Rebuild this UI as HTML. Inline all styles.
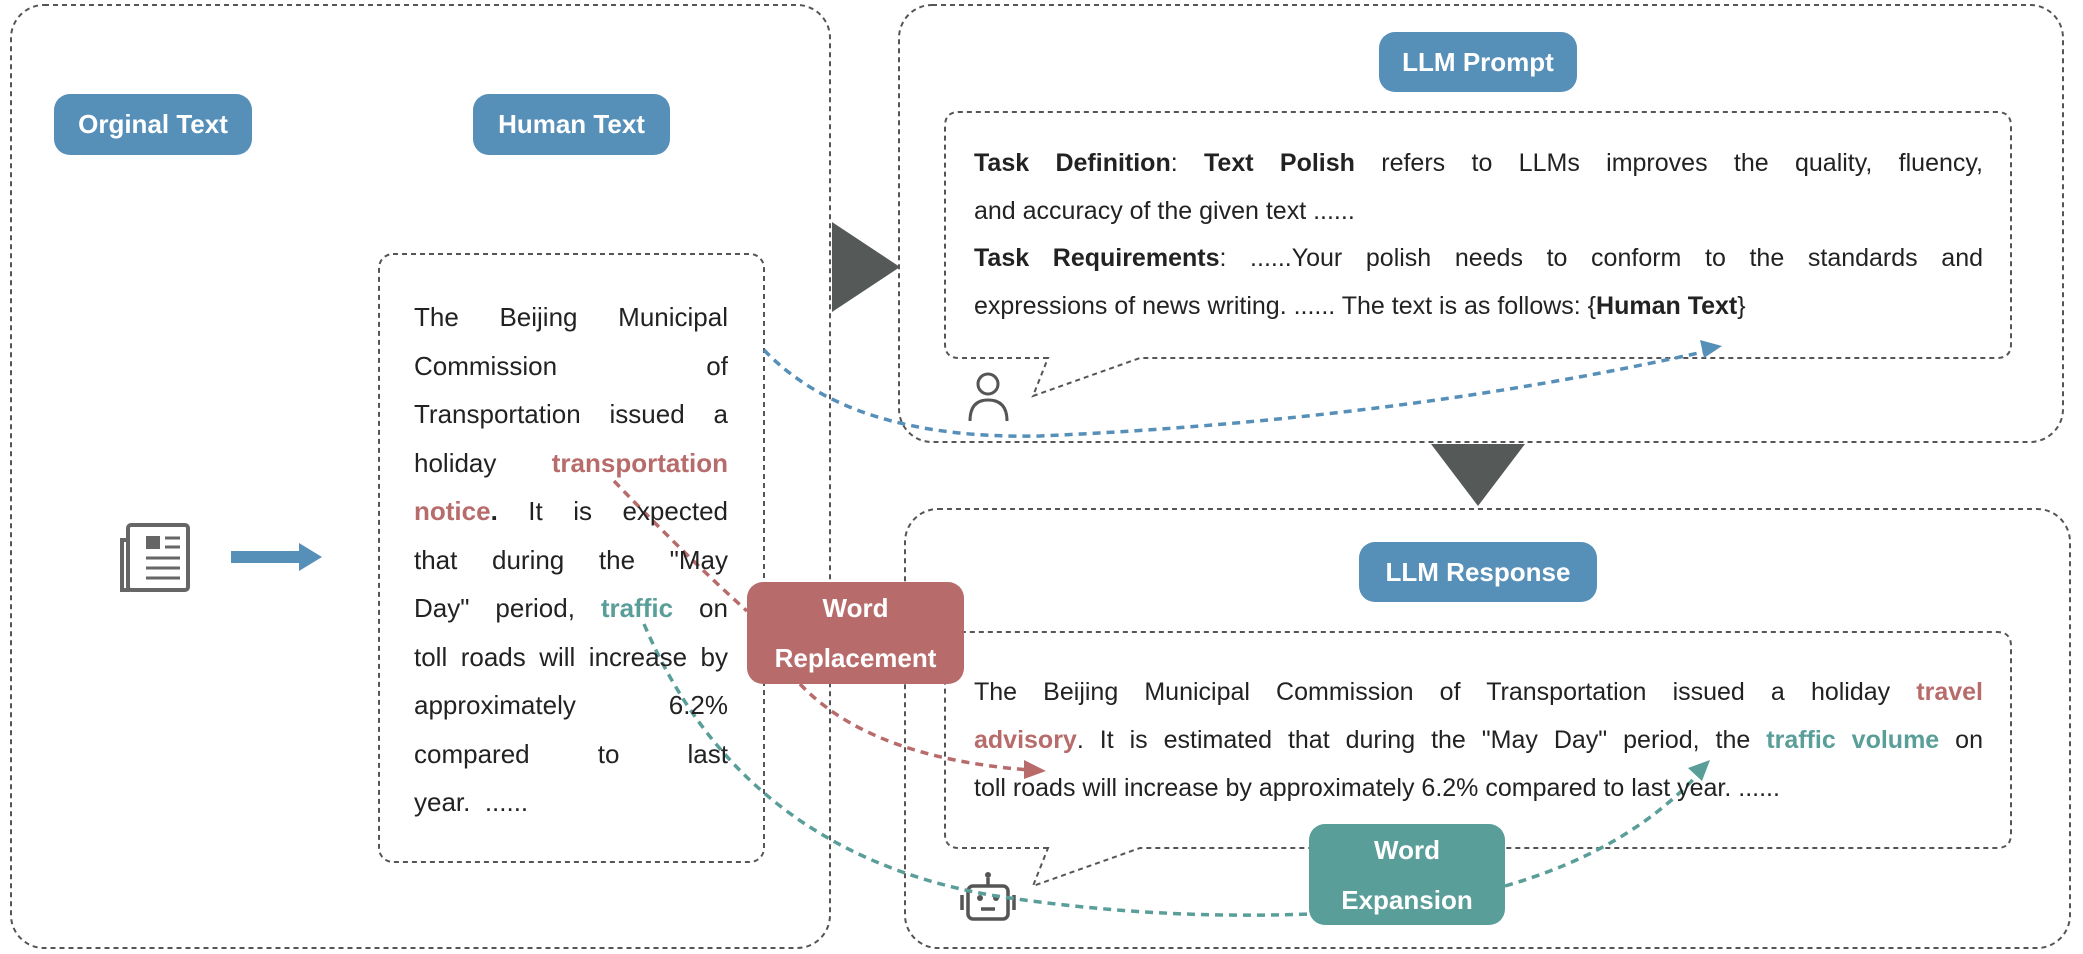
<!DOCTYPE html>
<html><head><meta charset="utf-8"><style>
html,body{margin:0;padding:0;background:#fff;}
body{width:2083px;height:954px;position:relative;overflow:hidden;font-family:"Liberation Sans","DejaVu Sans",sans-serif;color:#222;}
.pill{position:absolute;color:#fff;font-weight:bold;display:flex;align-items:center;justify-content:center;text-align:center;border-radius:16px;font-size:26px;}
.blue{background:#568fb8;}
.red{background:#b86b6b;line-height:50px;}
.teal{background:#5a9e9a;line-height:50px;}
.txt{position:absolute;}
.ln{text-align:justify;text-align-last:justify;white-space:nowrap;}
.ln.l{text-align-last:left;}
.ht{left:414px;top:293px;width:314px;font-size:26px;line-height:48.5px;}
.pt{left:974px;top:140px;width:1009px;font-size:25px;line-height:47.5px;}
.rt{left:974px;top:668px;width:1009px;font-size:25px;line-height:48px;}
.rd{color:#b86b6b;font-weight:bold;}
.tl{color:#5a9e9a;font-weight:bold;}
</style></head><body>
<svg width="2083" height="954" style="position:absolute;left:0;top:0" xmlns="http://www.w3.org/2000/svg">
<defs>
<marker id="ab" markerWidth="10" markerHeight="10" refX="6" refY="4" orient="auto" markerUnits="userSpaceOnUse" viewBox="0 0 8 8"><path d="M0,0 L8,4 L0,8z" fill="#568fb8"/></marker>
</defs>
<g fill="none" stroke="#555" stroke-width="2" stroke-dasharray="5,4">
<rect x="11" y="5" width="819" height="943" rx="33"/>
<rect x="379" y="254" width="385" height="608" rx="14"/>
<rect x="899" y="5" width="1164" height="437" rx="33"/>
<rect x="905" y="509" width="1165" height="439" rx="33"/>
<path d="M1048,358 L959,358 Q945,358 945,344 L945,126 Q945,112 959,112 L1997,112 Q2011,112 2011,126 L2011,344 Q2011,358 1997,358 L1140,358 L1033,396 Z"/>
<path d="M1048,848 L959,848 Q945,848 945,834 L945,646 Q945,632 959,632 L1997,632 Q2011,632 2011,646 L2011,834 Q2011,848 1997,848 L1140,848 L1033,886 Z"/>
</g>
<path d="M832,222 L900,267 L832,312 Z" fill="#555a58"/>
<path d="M1431,444 L1525,444 L1478,506 Z" fill="#555a58"/>
<!-- newspaper -->
<g fill="none" stroke="#666" stroke-width="4">
<rect x="128" y="525" width="60" height="65" rx="3"/>
<path d="M128,540 L122,540 L122,590 L130,590"/>
</g>
<rect x="146" y="536" width="14" height="13" fill="#666"/>
<g stroke="#666" stroke-width="3"><line x1="165" y1="538" x2="180" y2="538"/><line x1="165" y1="547" x2="180" y2="547"/><line x1="146" y1="558" x2="180" y2="558"/><line x1="146" y1="568" x2="180" y2="568"/><line x1="146" y1="578" x2="180" y2="578"/></g>
<!-- arrow -->
<rect x="231" y="551" width="70" height="12" fill="#568fb8"/>
<path d="M299,543 L322,557 L299,571 Z" fill="#568fb8"/>
<!-- person -->
<g fill="none" stroke="#555" stroke-width="3"><circle cx="988" cy="384" r="10"/><path d="M970,421 Q970,400 988,400 Q1007,400 1007,421"/></g>
<!-- robot -->
<g fill="none" stroke="#555" stroke-width="3.5"><rect x="968" y="886" width="40" height="33" rx="5"/><line x1="988" y1="878" x2="988" y2="886"/><line x1="962" y1="895" x2="962" y2="910"/><line x1="1014" y1="895" x2="1014" y2="910"/><line x1="981" y1="909" x2="995" y2="909"/></g>
<circle cx="988" cy="875" r="3" fill="#555"/><circle cx="980" cy="898" r="3" fill="#555"/><circle cx="996" cy="898" r="3" fill="#555"/>
<!-- connectors -->
<g fill="none" stroke-width="3.5" stroke-dasharray="8,6">
<path d="M764,350 Q850,440 1040,436 Q1400,420 1712,350" stroke="#568fb8"/>
<path d="M614,481 Q690,560 747,611" stroke="#b86b6b"/>
<path d="M800,684 Q870,758 1030,770" stroke="#b86b6b"/>
<path d="M644,624 Q740,850 990,895 Q1150,920 1309,914" stroke="#5a9e9a"/>
<path d="M1505,886 Q1630,850 1700,772" stroke="#5a9e9a"/>
</g>
<path d="M1722,346 L1700,340 L1704,358 Z" fill="#568fb8"/>
<path d="M1046,771 L1024,760 L1024,779 Z" fill="#b86b6b"/>
<path d="M1710,760 L1688,768 L1702,781 Z" fill="#5a9e9a"/>
</svg>
<div class="pill blue" style="left:54px;top:94px;width:198px;height:61px;">Orginal Text</div>
<div class="pill blue" style="left:473px;top:94px;width:197px;height:61px;">Human Text</div>
<div class="pill blue" style="left:1379px;top:32px;width:198px;height:60px;">LLM Prompt</div>
<div class="pill blue" style="left:1359px;top:542px;width:238px;height:60px;">LLM Response</div>
<div class="pill red" style="left:747px;top:582px;width:217px;height:102px;">Word<br>Replacement</div>
<div class="pill teal" style="left:1309px;top:824px;width:196px;height:101px;">Word<br>Expansion</div>
<div class="txt ht">
<div class="ln">The Beijing Municipal</div>
<div class="ln">Commission of</div>
<div class="ln">Transportation issued a</div>
<div class="ln">holiday <span class="rd">transportation</span></div>
<div class="ln"><span class="rd">notice</span><b>.</b> It is expected</div>
<div class="ln">that during the "May</div>
<div class="ln">Day" period, <span class="tl">traffic</span> on</div>
<div class="ln">toll roads will increase by</div>
<div class="ln">approximately 6.2%</div>
<div class="ln">compared to last</div>
<div class="ln l">year. &nbsp;......</div>
</div>
<div class="txt pt">
<div class="ln"><b>Task Definition</b>: <b>Text Polish</b> refers to LLMs improves the quality, fluency,</div>
<div class="ln l">and accuracy of the given text ......</div>
<div class="ln"><b>Task Requirements</b>: ......Your polish needs to conform to the standards and</div>
<div class="ln l">expressions of news writing. ...... The text is as follows: {<b>Human Text</b>}</div>
</div>
<div class="txt rt">
<div class="ln">The Beijing Municipal Commission of Transportation issued a holiday <span class="rd">travel</span></div>
<div class="ln"><span class="rd">advisory</span>. It is estimated that during the "May Day" period, the <span class="tl">traffic volume</span> on</div>
<div class="ln l">toll roads will increase by approximately 6.2% compared to last year. ......</div>
</div>
</body></html>
